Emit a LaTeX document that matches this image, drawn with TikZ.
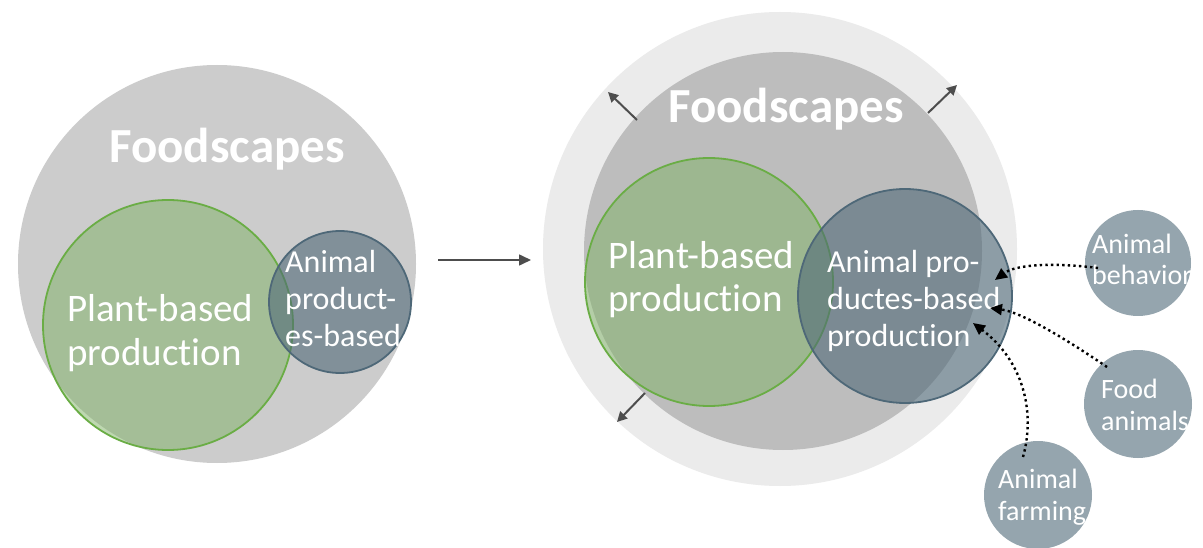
\documentclass[tikz,border=0pt]{standalone}
\usepackage{fontspec}
\setmainfont{Carlito}[Ligatures=NoCommon]
\usetikzlibrary{arrows.meta}

\definecolor{scapegray}{HTML}{CCCCCC}
\definecolor{scapering}{HTML}{EBEBEB}
\definecolor{scapeinner}{HTML}{BDBDBD}
\definecolor{plantfill}{RGB}{126,178,100}
\definecolor{plantline}{RGB}{106,173,69}
\definecolor{animalfill}{RGB}{79,105,120}
\definecolor{animalline}{RGB}{78,104,120}
\definecolor{arrowgray}{HTML}{4D4D4D}

\begin{document}
\begin{tikzpicture}[x=1pt, y=-1pt, >={Triangle[length=12pt,width=11pt]},
  disc/.style={circle, inner sep=0pt, minimum size=#1},
  plant/.style={disc=#1, fill=plantfill, fill opacity=0.5, draw=plantline, line width=1.8pt},
  animal/.style={disc=#1, fill=animalfill, fill opacity=0.6, draw=animalline, line width=1.8pt},
  factor/.style={disc=#1, fill=animalfill, fill opacity=0.6},
  ftext/.style={text=white, align=left, anchor=base west, inner sep=0pt},
  bigtext/.style={ftext, font=\fontsize{39}{43.5}\selectfont},
  midtext/.style={ftext, font=\fontsize{32}{37}\selectfont},
  smalltext/.style={ftext, font=\fontsize{28}{32}\selectfont},
  titletext/.style={text=white, anchor=base, inner sep=0pt, font=\bfseries\fontsize{49}{49}\selectfont},
  spread/.style={->, draw=arrowgray, line width=2pt, >={Triangle[length=10pt,width=10pt]}},
  influence/.style={->, line width=2.4pt, dash pattern=on 2.4pt off 3.2pt}]

\useasboundingbox (0,0) rectangle (1203,548);
\clip (0,0) rectangle (1203,548);
\fill [white] (0,0) rectangle (1203,548);

% before (anchors sit on the last line)
\node [disc=398pt, fill=scapegray] (scape-left) at (217,264) {};
\node [plant=250pt] (plant-left) at (168,325) {};
\node [animal=142pt] (animal-left) at (340,302) {};
\node [titletext] (title-left) at (227,163) {Foodscapes};
\node [bigtext] (plant-left-text) at (67,365) {Plant-based\\production};
\node [midtext] (animal-left-text) at (285,346) {Animal\\product-\\es-based};

% transition
\coordinate (step-from) at (438,260);
\coordinate (step-to) at (531,260);
\draw [->, draw=arrowgray, line width=1.6pt] (step-from) -- (step-to);

% after
\node [disc=474pt, fill=scapering] (scape-ring) at (780,249) {};
\node [disc=398pt, fill=scapeinner] (scape-right) at (783,251) {};
\node [plant=248pt] (plant-right) at (709,282) {};
\node [animal=214pt] (animal-right) at (905,296) {};
\node [titletext] (title-right) at (786,123) {Foodscapes};
\node [bigtext] (plant-right-text) at (608,312) {Plant-based\\production};
\node [midtext] (animal-right-text) at (827,346) {Animal pro-\\ductes-based\\production};

% growth of the foodscape
\foreach \n/\ax/\ay/\bx/\by in {1/637/120/608/92, 2/928/113/957/85, 3/645/393/617/422} {
  \coordinate (spread-\n-a) at (\ax,\ay);
  \coordinate (spread-\n-b) at (\bx,\by);
  \draw [spread] (spread-\n-a) -- (spread-\n-b);
}

% factors
\node [factor=106pt] (behavior) at (1138,263) {};
\node [factor=108pt] (food) at (1138,404) {};
\node [factor=108pt] (farming) at (1038,495) {};
\node [smalltext] (behavior-text) at (1092,285) {Animal\\behavior};
\node [smalltext] (food-text) at (1101,430) {Food\\animals};
\node [smalltext] (farming-text) at (998,520) {Animal\\farming};

\coordinate (behavior-out) at (1098,268);
\coordinate (food-out) at (1107,367);
\coordinate (farming-out) at (1023,457);
\coordinate (behavior-in) at (995,280);
\coordinate (food-in) at (990,308);
\coordinate (farming-in) at (973,323);

\draw [influence] (behavior-out) .. controls (1050,262) and (1015,265) .. (behavior-in);
\draw [influence] (food-out) .. controls (1060,335) and (1020,312) .. (food-in);
\draw [influence] (farming-out) .. controls (1036,410) and (1022,360) .. (farming-in);

\end{tikzpicture}
\end{document}
